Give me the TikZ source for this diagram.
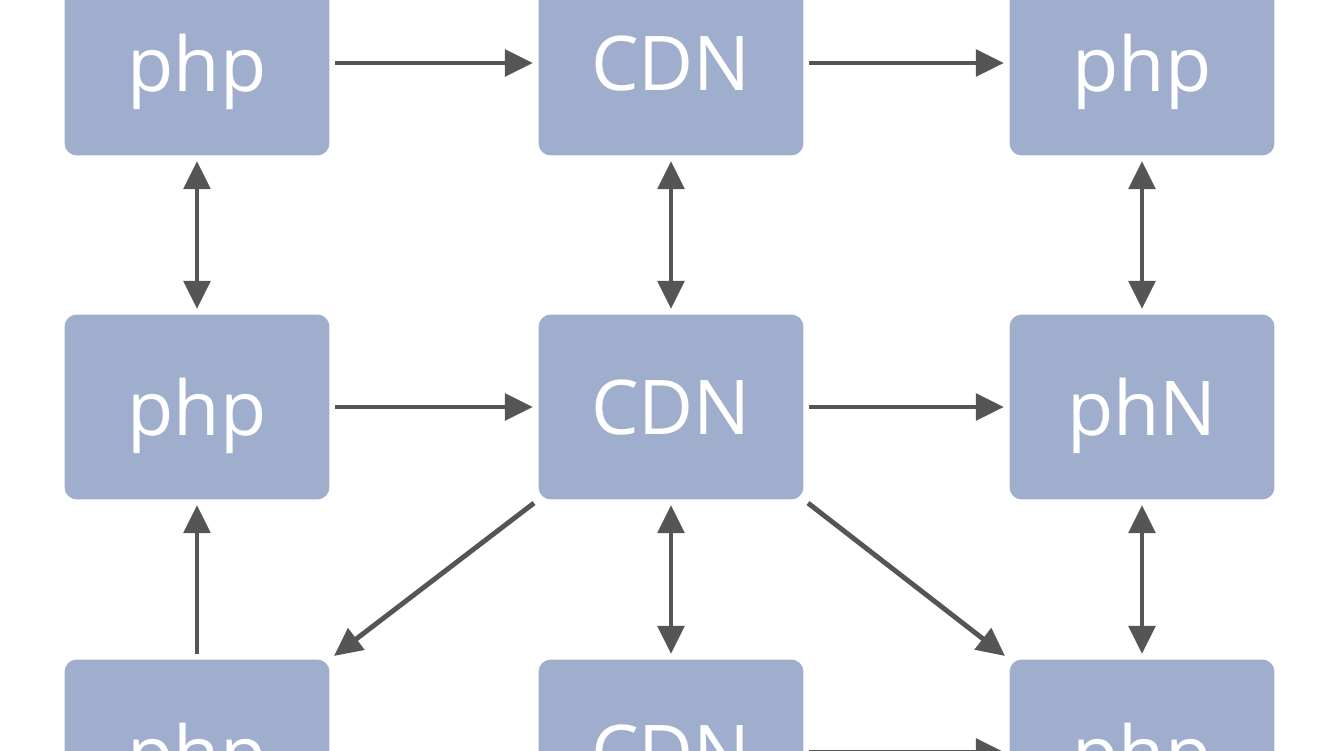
\documentclass[tikz,border=0pt]{standalone}
\usepackage{fontspec}
\setmainfont{Open Sans}
\usetikzlibrary{arrows.meta}
\definecolor{boxblue}{RGB}{160,174,205}
\definecolor{arrgray}{RGB}{85,85,85}
\begin{document}
\begin{tikzpicture}[x=0.02cm,y=-0.02cm,
  box/.style={fill=boxblue,rounded corners=7pt,minimum width=5.3cm,minimum height=3.7cm,
    text=white,font=\fontsize{43}{46}\selectfont,text depth=0pt},
  link/.style={draw=arrgray,line width=2.8pt,-{Triangle[length=16pt,width=15pt]},shorten <=3pt,shorten >=3pt},
  both/.style={link,{Triangle[length=16pt,width=15pt]}-{Triangle[length=16pt,width=15pt]}}]
\useasboundingbox[fill=white] (0,0) rectangle (1344,750);
% boxes
\node[box] (pa) at (197,63) {php};
\node[box] (ca) at (671,63) {CDN};
\node[box] (pb) at (1142,63) {php};
\node[box] (pc) at (197,407) {php};
\node[box] (cb) at (671,407) {CDN};
\node[box] (nb) at (1142,407) {phN};
\node[box] (pd) at (197,752) {php};
\node[box] (cc) at (671,752) {CDN};
\node[box] (pe) at (1142,752) {php};
% links
\draw[link] (pa.east) -- (ca.west);
\draw[link] (ca.east) -- (pb.west);
\draw[link] (pc.east) -- (cb.west);
\draw[link] (cb.east) -- (nb.west);
\draw[both] (pa.south) -- (pc.north);
\draw[both] (ca.south) -- (cb.north);
\draw[both] (pb.south) -- (nb.north);
\draw[both] (cb.south) -- (cc.north);
\draw[both] (nb.south) -- (pe.north);
\draw[link] (pd.north) -- (pc.south);
\draw[link] (cb.south west) -- (pd.north east);
\draw[link] (cb.south east) -- (pe.north west);
\draw[link] (cc.east) -- (pe.west);
\end{tikzpicture}
\end{document}
